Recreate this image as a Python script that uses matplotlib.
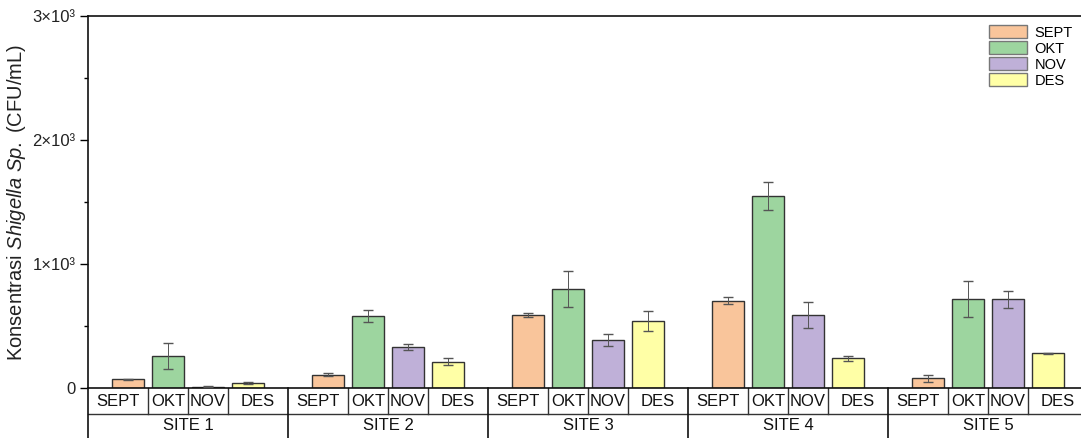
import matplotlib
matplotlib.use("Agg")
import matplotlib.pyplot as plt
from matplotlib.patches import Patch
import numpy as np

# data (CFU/mL)
sites = ["SITE 1", "SITE 2", "SITE 3", "SITE 4", "SITE 5"]
months = ["SEPT", "OKT", "NOV", "DES"]
sept = [70, 107, 589, 704, 78]
okt = [260, 580, 798, 1548, 715]
nov = [10, 330, 385, 589, 715]
des = [40, 212, 540, 239, 280]
sept_err = [5, 10, 13, 30, 27]
okt_err = [105, 47, 148, 110, 144]
nov_err = [5, 25, 48, 106, 67]
des_err = [5, 27, 83, 20, 5]

colors = ["#F9C59B", "#9DD59F", "#BFB0D8", "#FFFFA6"]

plt.rcParams['font.family'] = ['Liberation Sans', 'DejaVu Sans']
plt.rcParams['mathtext.fontset'] = 'custom'
plt.rcParams['mathtext.it'] = 'Liberation Sans:italic'
plt.rcParams['mathtext.rm'] = 'Liberation Sans'

W, H = 1081, 438
fig = plt.figure(figsize=(W / 100, H / 100), dpi=100)
ax = fig.add_axes([88 / W, 50 / H, 1000 / W, 372 / H])

values = [sept, okt, nov, des]
errs = [sept_err, okt_err, nov_err, des_err]
for m in range(4):
  xs = [5 * g + m + 1 for g in range(len(sites))]
  ax.bar(xs, values[m], 0.8, color=colors[m], edgecolor="#333333", lw=1.0, zorder=2)
  ax.errorbar(xs, values[m], yerr=errs[m], fmt="none", ecolor="#555555",
              elinewidth=0.7, capsize=3.5, capthick=1.0, zorder=3)

ax.set_xlim(0, 25)
ax.set_ylim(0, 3000)
ax.set_xticks([])
ax.set_yticks([0, 1000, 2000, 3000])
ax.set_yticklabels(["0", "1×10³", "2×10³", "3×10³"], fontsize=12, color="#222222")
ax.set_yticks([500, 1500, 2500], minor=True)
ax.tick_params(axis="y", which="major", length=6, width=1, direction="out", pad=3)
ax.tick_params(axis="y", which="minor", length=3, width=1, direction="out")
ax.spines["right"].set_visible(False)
for s in ["left", "top", "bottom"]:
  ax.spines[s].set_linewidth(1.2)
  ax.spines[s].set_color("#111111")
ax.set_ylabel("Konsentrasi $\\mathit{Shigella\\ Sp.}$ (CFU/mL)", fontsize=14.5, color="#222222", labelpad=3)

# category table below the axis
tr = ax.get_xaxis_transform()
r1 = -26 / 372.0
r2 = -52 / 372.0
ax.plot([0, 25], [r1, r1], transform=tr, color="#333333", lw=1.0, clip_on=False)
ax.plot([0, 0], [0, r2], transform=tr, color="#111111", lw=1.2, clip_on=False)
for g in range(len(sites)):
  x0 = 5 * g
  if g > 0:
    ax.plot([x0, x0], [0, r2], transform=tr, color="#111111", lw=1.2, clip_on=False)
  for b in [1.5, 2.5, 3.5]:
    ax.plot([x0 + b, x0 + b], [0, r1], transform=tr, color="#333333", lw=1.0, clip_on=False)
  centers = [x0 + 0.75, x0 + 2, x0 + 3, x0 + 4.25]
  for c, lab in zip(centers, months):
    ax.text(c, r1 / 2, lab, transform=tr, ha="center", va="center", fontsize=12, color="#111111")
  ax.text(x0 + 2.5, (r1 + r2) / 2 + 0.004, sites[g], transform=tr, ha="center", va="center",
          fontsize=12, color="#111111")

handles = [Patch(facecolor=colors[m], edgecolor="#777777", lw=1, label=months[m]) for m in range(4)]
fig.legend(handles=handles, loc="upper right", bbox_to_anchor=(1083 / W, 1 - 15 / H),
           frameon=False, fontsize=10.5, handlelength=2.6, handleheight=1.0,
           labelspacing=0.1, handletextpad=0.5, borderpad=0.2)

fig.savefig("out.png", dpi=100)
